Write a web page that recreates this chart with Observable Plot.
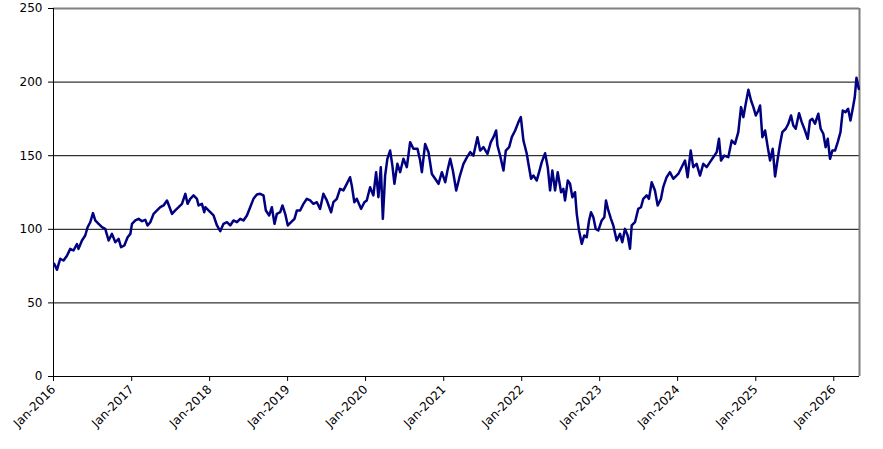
<!DOCTYPE html>
<html>
<head>
<meta charset="utf-8">
<script src="https://cdn.jsdelivr.net/npm/d3@7"></script>
<script src="https://cdn.jsdelivr.net/npm/@observablehq/plot@0.6"></script>
<style>
  html, body { margin: 0; padding: 0; background: #fff; }
  #chart svg { display: block; }
</style>
</head>
<body>
<div id="chart"></div>
<script>
// Index level: [decimal year, level]
const indexLevels = [
  [2016.009, 76.6], [2016.044, 72.5], [2016.086, 80.0], [2016.128, 78.8], [2016.172, 82.0],
  [2016.214, 86.7], [2016.256, 85.6], [2016.300, 90.0], [2016.320, 86.7], [2016.364, 92.4],
  [2016.406, 95.8], [2016.436, 101.4], [2016.470, 104.8], [2016.505, 111.0], [2016.534, 106.0],
  [2016.577, 103.7], [2016.620, 101.4], [2016.662, 100.3], [2016.705, 92.4], [2016.748, 96.9],
  [2016.791, 91.2], [2016.833, 93.5], [2016.864, 87.8], [2016.906, 89.0], [2016.948, 94.6],
  [2016.983, 96.9], [2017.004, 103.7], [2017.047, 106.0], [2017.089, 107.1], [2017.133, 105.5],
  [2017.175, 106.4], [2017.204, 102.6], [2017.239, 104.8], [2017.281, 110.5], [2017.325, 112.8],
  [2017.367, 115.0], [2017.409, 116.2], [2017.453, 119.6], [2017.486, 115.0], [2017.517, 110.5],
  [2017.559, 112.8], [2017.602, 115.0], [2017.645, 117.3], [2017.688, 124.1], [2017.717, 117.3],
  [2017.751, 120.7], [2017.794, 123.0], [2017.837, 120.7], [2017.858, 116.2], [2017.901, 117.3],
  [2017.931, 111.6], [2017.944, 115.0], [2018.008, 111.6], [2018.050, 109.4], [2018.094, 102.6],
  [2018.136, 98.7], [2018.178, 103.7], [2018.222, 104.8], [2018.264, 102.6], [2018.306, 106.0],
  [2018.350, 104.8], [2018.392, 107.1], [2018.434, 106.0], [2018.478, 109.4], [2018.520, 115.0],
  [2018.562, 120.7], [2018.606, 123.6], [2018.648, 124.1], [2018.691, 123.0], [2018.721, 112.8],
  [2018.764, 109.4], [2018.798, 115.0], [2018.832, 103.7], [2018.862, 110.5], [2018.905, 111.6],
  [2018.934, 116.2], [2018.969, 110.5], [2019.003, 102.6], [2019.045, 104.8], [2019.088, 107.1],
  [2019.119, 112.8], [2019.161, 112.8], [2019.203, 117.3], [2019.247, 120.7], [2019.289, 119.6],
  [2019.331, 117.3], [2019.375, 118.4], [2019.417, 113.9], [2019.459, 124.1], [2019.503, 119.6],
  [2019.558, 111.6], [2019.587, 118.4], [2019.631, 120.7], [2019.673, 127.5], [2019.716, 126.4],
  [2019.759, 130.9], [2019.801, 135.4], [2019.823, 129.8], [2019.856, 118.4], [2019.887, 120.7],
  [2019.942, 113.9], [2019.985, 118.4], [2020.015, 119.6], [2020.058, 128.6], [2020.100, 123.0],
  [2020.135, 138.8], [2020.164, 121.8], [2020.195, 142.2], [2020.221, 107.1], [2020.250, 136.5],
  [2020.279, 147.9], [2020.314, 153.5], [2020.343, 143.3], [2020.369, 130.9], [2020.407, 144.5],
  [2020.442, 138.8], [2020.484, 147.9], [2020.528, 142.2], [2020.570, 159.2], [2020.612, 154.7],
  [2020.664, 154.7], [2020.698, 146.7], [2020.720, 138.8], [2020.762, 158.0], [2020.805, 152.4],
  [2020.848, 137.6], [2020.890, 134.3], [2020.933, 130.9], [2020.976, 138.8], [2021.019, 132.0],
  [2021.048, 139.9], [2021.083, 147.9], [2021.117, 139.9], [2021.160, 126.4], [2021.202, 135.4],
  [2021.253, 144.5], [2021.297, 148.9], [2021.339, 152.4], [2021.381, 150.1], [2021.432, 162.6],
  [2021.467, 153.5], [2021.509, 155.8], [2021.561, 151.3], [2021.604, 159.2], [2021.638, 162.6],
  [2021.672, 167.1], [2021.689, 156.9], [2021.723, 150.1], [2021.766, 139.9], [2021.796, 153.5],
  [2021.839, 155.8], [2021.873, 162.6], [2021.916, 167.1], [2021.958, 172.8], [2021.989, 176.2],
  [2022.022, 160.3], [2022.065, 151.3], [2022.086, 144.5], [2022.120, 134.3], [2022.150, 136.5],
  [2022.193, 133.2], [2022.223, 138.8], [2022.257, 145.6], [2022.300, 151.7], [2022.334, 142.2],
  [2022.364, 126.4], [2022.393, 139.9], [2022.428, 126.4], [2022.462, 138.8], [2022.505, 125.2],
  [2022.534, 127.5], [2022.556, 119.6], [2022.591, 133.2], [2022.620, 130.9], [2022.650, 121.8],
  [2022.684, 125.2], [2022.706, 110.5], [2022.735, 99.2], [2022.770, 90.1], [2022.803, 95.8],
  [2022.834, 94.6], [2022.864, 106.0], [2022.889, 111.6], [2022.919, 108.2], [2022.949, 100.3],
  [2022.983, 99.2], [2023.026, 106.0], [2023.060, 108.2], [2023.081, 119.6], [2023.111, 112.8],
  [2023.145, 107.1], [2023.175, 102.6], [2023.218, 92.4], [2023.261, 96.9], [2023.290, 91.2],
  [2023.325, 100.3], [2023.359, 95.8], [2023.389, 86.8], [2023.411, 102.6], [2023.453, 104.8],
  [2023.495, 113.9], [2023.530, 115.0], [2023.559, 120.7], [2023.603, 123.0], [2023.632, 120.7],
  [2023.667, 132.0], [2023.709, 126.4], [2023.744, 116.2], [2023.786, 120.7], [2023.815, 128.6],
  [2023.859, 135.4], [2023.901, 138.8], [2023.944, 134.3], [2024.008, 137.6], [2024.051, 142.2],
  [2024.094, 146.7], [2024.128, 135.4], [2024.167, 153.5], [2024.200, 142.2], [2024.243, 144.5],
  [2024.286, 136.5], [2024.328, 144.5], [2024.372, 142.2], [2024.414, 145.6], [2024.456, 148.9],
  [2024.500, 152.4], [2024.529, 161.5], [2024.555, 146.7], [2024.597, 150.1], [2024.648, 149.0],
  [2024.692, 160.3], [2024.734, 158.0], [2024.776, 166.0], [2024.811, 183.0], [2024.841, 176.2],
  [2024.871, 185.2], [2024.905, 194.8], [2024.939, 187.5], [2024.969, 183.0], [2025.000, 177.3],
  [2025.033, 180.7], [2025.055, 184.1], [2025.084, 162.6], [2025.119, 167.1], [2025.153, 155.8],
  [2025.183, 146.7], [2025.217, 154.7], [2025.247, 135.9], [2025.281, 147.9], [2025.311, 158.0],
  [2025.340, 166.0], [2025.384, 168.3], [2025.417, 171.7], [2025.452, 177.3], [2025.481, 170.5],
  [2025.512, 168.3], [2025.554, 178.9], [2025.589, 172.8], [2025.631, 167.1], [2025.666, 161.5],
  [2025.695, 173.9], [2025.725, 175.0], [2025.759, 171.7], [2025.802, 178.5], [2025.832, 168.3],
  [2025.866, 164.9], [2025.896, 155.8], [2025.923, 161.5], [2025.952, 147.9], [2025.982, 153.5],
  [2026.016, 153.5], [2026.051, 159.2], [2026.086, 166.0], [2026.115, 180.7], [2026.150, 179.6],
  [2026.184, 181.9], [2026.214, 173.9], [2026.243, 181.9], [2026.269, 189.7], [2026.291, 202.9],
  [2026.321, 195.4]
];

const yTicks = [0, 50, 100, 150, 200, 250];
const yearTicks = d3.range(2016, 2027);
const xEnd = 2026.33;

// decimal year -> UTC date
function toDate(t) {
  const y = Math.floor(t);
  const start = Date.UTC(y, 0, 1), end = Date.UTC(y + 1, 0, 1);
  return new Date(start + (t - y) * (end - start));
}

const data = indexLevels.map(([t, v]) => ({date: toDate(t), value: v}));
const janTicks = yearTicks.map(y => new Date(Date.UTC(y, 0, 1)));

const chart = Plot.plot({
  width: 883,
  height: 449,
  marginLeft: 53,
  marginRight: 24,
  marginTop: 8,
  marginBottom: 73,
  style: {
    background: '#fff',
    color: '#000',
    fontSize: '12px',
    fontFamily: "'DejaVu Sans', Verdana, sans-serif"
  },
  x: {type: 'utc', domain: [toDate(2016), toDate(xEnd)]},
  y: {domain: [0, 250]},
  marks: [
    // gridlines
    Plot.ruleY(yTicks.filter(d => d > 0 && d < 250), {stroke: '#000', strokeWidth: 1}),
    // plot frame: grey top and right, dark left and bottom
    Plot.ruleY([250], {stroke: '#808080', strokeWidth: 2}),
    Plot.ruleX([toDate(xEnd)], {stroke: '#808080', strokeWidth: 2}),
    Plot.ruleX([toDate(2016)], {stroke: '#000', strokeWidth: 1}),
    Plot.ruleY([0], {stroke: '#000', strokeWidth: 1}),
    Plot.axisY({ticks: yTicks, tickSize: 5, tickPadding: 6, label: null}),
    Plot.axisX({
      ticks: janTicks,
      tickSize: 5,
      tickRotate: -45,
      tickPadding: 6,
      tickFormat: d3.utcFormat('%b-%Y'),
      label: null
    }),
    Plot.line(data, {x: 'date', y: 'value', stroke: '#000080', strokeWidth: 2.5, strokeLinejoin: 'round'})
  ]
});

document.getElementById('chart').appendChild(chart);
</script>
</body>
</html>
